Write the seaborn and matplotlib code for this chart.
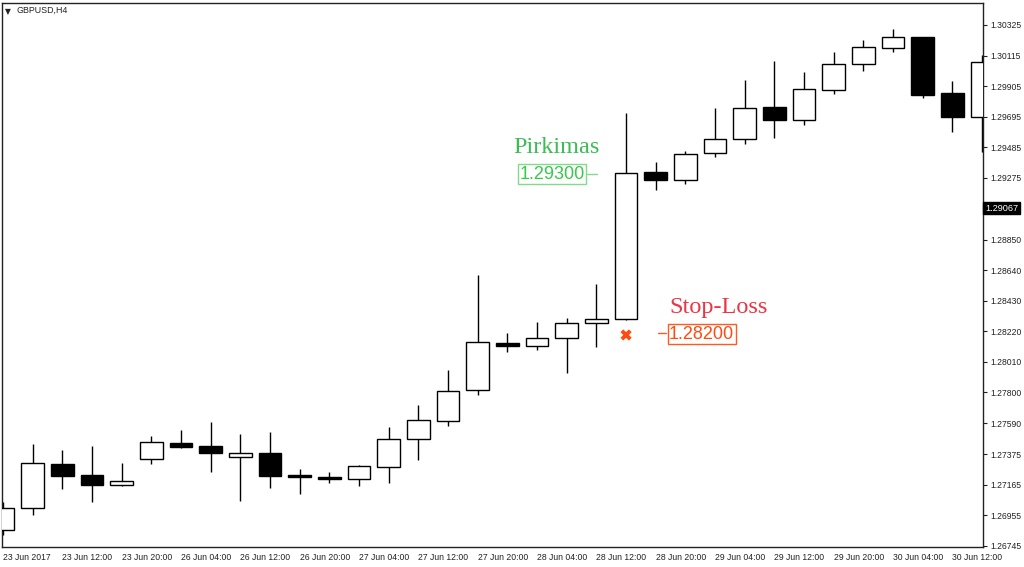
import matplotlib
matplotlib.use("Agg")
import matplotlib.pyplot as plt
import seaborn as sns
import numpy as np
import pandas as pd

# ---- data (GBPUSD H4 candles) ----
opens = [1.26855, 1.27006, 1.27308, 1.27233, 1.27164, 1.27343, 1.27453, 1.27432, 1.27357, 1.27384,
         1.27233, 1.27219, 1.27205, 1.27288, 1.27480, 1.27604, 1.27817, 1.28140, 1.28119, 1.28174,
         1.28277, 1.28305, 1.29315, 1.29260, 1.29446, 1.29542, 1.29762, 1.29672, 1.29878, 1.30057,
         1.30167, 1.30243, 1.29858, 1.29693]
highs = [1.27047, 1.27446, 1.27405, 1.27432, 1.27315, 1.27501, 1.27542, 1.27597, 1.27515, 1.27528,
         1.27274, 1.27253, 1.27302, 1.27563, 1.27714, 1.27954, 1.28607, 1.28209, 1.28284, 1.28312,
         1.28545, 1.29720, 1.29384, 1.29459, 1.29755, 1.29947, 1.30078, 1.30002, 1.30139, 1.30222,
         1.30298, 1.30243, 1.29940, 1.30119]
lows = [1.26821, 1.26958, 1.27137, 1.27047, 1.27157, 1.27308, 1.27418, 1.27253, 1.27054, 1.27144,
        1.27102, 1.27178, 1.27157, 1.27178, 1.27336, 1.27570, 1.27783, 1.28078, 1.28092, 1.27934,
        1.28112, 1.28298, 1.29191, 1.29232, 1.29418, 1.29507, 1.29549, 1.29638, 1.29851, 1.30009,
        1.30139, 1.29823, 1.29590, 1.29452]
closes = [1.27006, 1.27315, 1.27226, 1.27164, 1.27192, 1.27460, 1.27425, 1.27384, 1.27384, 1.27226,
          1.27219, 1.27205, 1.27295, 1.27480, 1.27611, 1.27810, 1.28147, 1.28119, 1.28174, 1.28277,
          1.28305, 1.29308, 1.29260, 1.29439, 1.29542, 1.29755, 1.29672, 1.29885, 1.30057, 1.30174,
          1.30243, 1.29844, 1.29693, 1.30071]

x_labels = ["23 Jun 2017", "23 Jun 12:00", "23 Jun 20:00", "26 Jun 04:00", "26 Jun 12:00",
            "26 Jun 20:00", "27 Jun 04:00", "27 Jun 12:00", "27 Jun 20:00", "28 Jun 04:00",
            "28 Jun 12:00", "28 Jun 20:00", "29 Jun 04:00", "29 Jun 12:00", "29 Jun 20:00",
            "30 Jun 04:00", "30 Jun 12:00"]
y_ticks = [1.30325, 1.30115, 1.29905, 1.29695, 1.29485, 1.29275, 1.28850, 1.28640, 1.28430,
           1.28220, 1.28010, 1.27800, 1.27590, 1.27375, 1.27165, 1.26955, 1.26745]
y_tick_labels = ["%.5f" % v for v in y_ticks]
current_price = 1.29067
entry_price = 1.29300
stop_price = 1.28200
entry_candle = 21

df = pd.DataFrame({"o": opens, "h": highs, "l": lows, "c": closes})
df["i"] = np.arange(len(df))
df["bull"] = df["c"] >= df["o"]

# ---- figure ----
sns.set_theme(style="white")
plt.rcParams["font.family"] = ["Liberation Sans", "DejaVu Sans"]

fig = plt.figure(figsize=(10.24, 5.67), dpi=100)
ax = fig.add_axes([2 / 1024, 1 - 547 / 567, 981 / 1024, 544 / 567])
ax.set_facecolor("white")

# wicks
ax.vlines(df["i"], df["l"], df["h"], color="black", linewidth=1.0, zorder=2)
# bodies
bw = 0.76
bottoms = np.minimum(df["o"], df["c"])
heights = np.abs(df["c"] - df["o"])
face = ["white" if b else "black" for b in df["bull"]]
ax.bar(df["i"], heights, bottom=bottoms, width=bw, color=face, edgecolor="black",
       linewidth=1.0, zorder=3)

ax.set_xlim(-0.034, 33.03)
ax.set_ylim(1.26738, 1.30476)

# axes styling
for s in ax.spines.values():
    s.set_color("#222222")
    s.set_linewidth(1.0)
    s.set_visible(True)
ax.yaxis.tick_right()
ax.set_yticks(y_ticks)
ax.set_yticklabels(y_tick_labels)
ax.set_xticks(np.arange(0, 2 * len(x_labels), 2))
ax.set_xticklabels(x_labels, ha="left")
ax.tick_params(axis="both", direction="out", length=3, width=0.8, color="#222222",
               labelsize=6.2, labelcolor="#222222", pad=2)
ax.tick_params(axis="x", pad=1.5)
ax.grid(False)

# title
ax.text(0.0035, 0.993, "\u25BC", transform=ax.transAxes, fontsize=5.5, va="top", ha="left",
        family="DejaVu Sans", color="#222222")
ax.text(0.015, 0.995, "GBPUSD,H4", transform=ax.transAxes, fontsize=6.4, va="top", ha="left",
        color="#222222")

# current price label
ax.text(1.002, current_price, "1.29067", transform=ax.get_yaxis_transform(), fontsize=6.6,
        color="white", ha="left", va="center",
        bbox=dict(boxstyle="square,pad=0.2", facecolor="black", edgecolor="black"))

# entry annotation
green_txt = "#38c84a"
ax.text(entry_candle - 2.36, 1.29480, "Pirkimas", family="Liberation Serif", fontsize=17.5,
        color="#3dbb55", ha="center", va="center")
ax.text(entry_candle - 1.40, entry_price, "1.29300", fontsize=13, color=green_txt,
        ha="right", va="center",
        bbox=dict(boxstyle="square,pad=0.08", facecolor="white", edgecolor="#7fdc88", linewidth=1))
ax.plot([entry_candle - 1.32, entry_candle - 0.98], [entry_price, entry_price],
        color="#7fdc88", linewidth=1, zorder=4)

# stop-loss annotation
ax.text(entry_candle + 3.13, 1.28387, "Stop-Loss", family="Liberation Serif", fontsize=17.5,
        color="#ee3344", ha="center", va="center")
ax.text(entry_candle + 1.45, stop_price, "1.28200", fontsize=13, color="#ff4a10",
        ha="left", va="center",
        bbox=dict(boxstyle="square,pad=0.08", facecolor="white", edgecolor="#ff5a20", linewidth=1))
ax.plot([entry_candle + 1.08, entry_candle + 1.36], [stop_price + 0.00006, stop_price + 0.00006],
        color="#ff5a20", linewidth=1, zorder=4)

sl = pd.DataFrame({"x": [entry_candle], "y": [stop_price - 0.00005]})
sns.scatterplot(data=sl, x="x", y="y", ax=ax, marker="X", s=65, color="#ff4a10",
                edgecolor="none", zorder=5, legend=False)
ax.set_xlabel("")
ax.set_ylabel("")

fig.savefig("out.png", dpi=100, facecolor="white")
